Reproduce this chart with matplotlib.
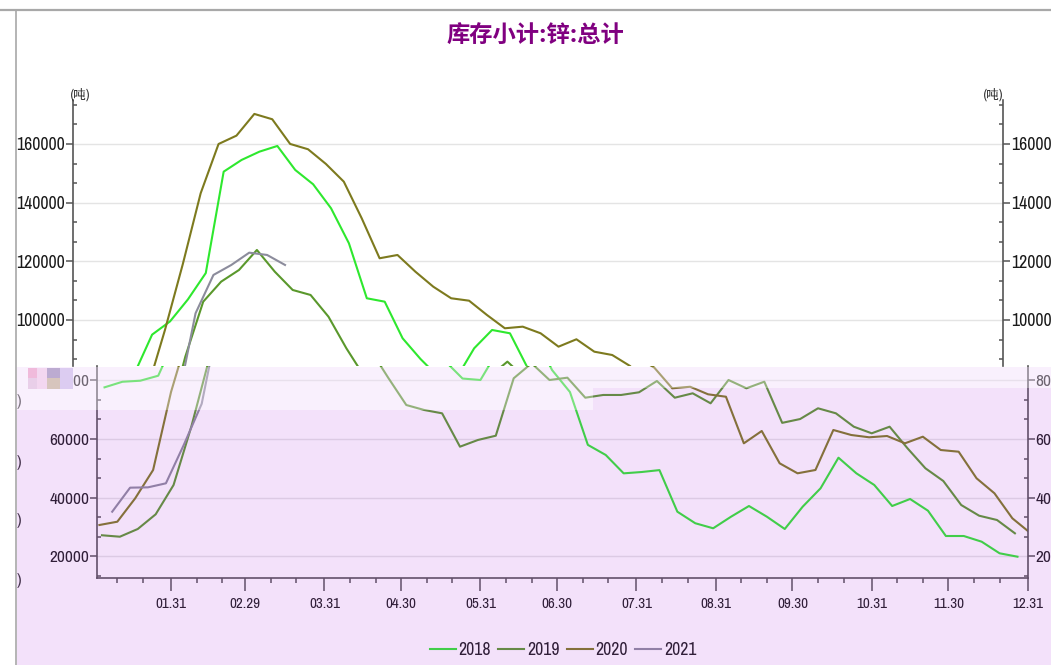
import matplotlib
matplotlib.use('Agg')
import matplotlib.pyplot as plt
import matplotlib.patches as mpatches
from matplotlib.lines import Line2D
from matplotlib.ticker import MultipleLocator, FuncFormatter
from matplotlib import font_manager as fm

# weekly zinc stock (tonnes), one list per year, first value on first_day
years = ['2018', '2019', '2020', '2021']
first_day = [5, 4, 3, 8]
stock_2018 = [77600, 79500, 79860, 81560, 95000, 99500, 107000, 116000, 150570, 154560,
              157390, 159330, 151150, 146270, 138090, 126150, 107400, 106240, 93760, 86700,
              80600, 80100, 90350, 96590, 95460, 83500, 76000, 58000, 54550, 48300,
              48750, 49400, 35230, 31300, 29580, 33530, 37170, 33530, 29340, 36930,
              43200, 53630, 48310, 44330, 37170, 39560, 35570, 26950, 26950, 25010,
              21060, 19900]
stock_2019 = [27200, 26710, 29340, 34340, 44330, 64400, 87500, 106240, 113060, 117050,
              123870, 116470, 110230, 108525, 101125, 90350, 80780, 71580, 69880, 68750,
              57380, 59660, 61120, 80680, 85800, 80100, 80890, 74070, 75000, 75000,
              75910, 79760, 74070, 75570, 72160, 80100, 77270, 79520, 65500, 66800,
              70460, 68750, 64190, 61940, 64190, 56830, 50020, 45690, 37510, 33870,
              32400, 27870]
stock_2020 = [30700, 31820, 39800, 49440, 76000, 96500, 119000, 143200, 160000, 162850,
              170250, 168440, 160020, 158210, 153200, 147160, 134680, 121040, 122160, 116470,
              111350, 107400, 106580, 101700, 97170, 97720, 95460, 90900, 93420, 89190,
              88060, 84300, 77260, 77800, 75230, 74400, 58530, 62730, 51720, 48310,
              49440, 63070, 61360, 60580, 61020, 58530, 60780, 56250, 55670, 46610,
              41500, 32980, 28000]
stock_2021 = [35230, 43420, 43530, 44900, 58000, 72000, 102280, 115350, 118760, 122950,
              122165, 118760]
series = [stock_2018, stock_2019, stock_2020, stock_2021]
colors = ['#2EE82E', '#5A982C', '#7D7A1E', '#8C8C9C']

month_len = [31, 29, 31, 30, 31, 30, 31, 31, 30, 31, 30, 31]
month_labels = ['01.31', '02.29', '03.31', '04.30', '05.31', '06.30',
                '07.31', '08.31', '09.30', '10.31', '11.30', '12.31']
title = '库存小计:锌:总计'

names = {f.name for f in fm.fontManager.ttflist}
NARROW = 'DejaVu Sans'
for cand in ['Liberation Sans Narrow', 'Archivo Narrow', 'Roboto Condensed', 'DejaVu Sans']:
    if cand in names:
        NARROW = cand
        break
CJK = ['Noto Sans CJK SC', 'DejaVu Sans']
plt.rcParams['font.family'] = [NARROW, 'Noto Sans CJK SC', 'DejaVu Sans']

W, H = 1051, 665
fig = plt.figure(figsize=(W / 100, H / 100), dpi=100)
fig.patch.set_facecolor('white')
rend = fig.canvas.get_renderer()


def fx(x):
    return x / W


def fy(y):
    return 1 - y / H


def fit(s, target_px, **kw):
    # font size (pt) that gives the text the wanted width in pixels
    t = fig.text(0, 0, s, fontsize=10, **kw)
    w = t.get_window_extent(rend).width
    t.remove()
    return 10 * target_px / w


fs_top = fit('160000', 48)
fs_bot = fit('60000', 39)
fs_x = fit('01.31', 31)
fs_leg = fit('2018', 32)
fs_title = fit(title, 178, family=CJK, fontweight='bold')

month_end = []
minor_days = []
acc = 0
for n in month_len:
    minor_days += [acc + 10, acc + 20]
    acc += n
    month_end.append(acc)

ax_top = fig.add_axes([fx(72.7), fy(366), (1003.3 - 72.7) / W, 266 / H])
ax_bot = fig.add_axes([fx(96.7), fy(578.3), 931 / W, (578.3 - 366) / H])
ax_top.set_ylim(84310, 175000)
ax_bot.set_ylim(12540, 84870)

spine_c = '#555555'
fmt = FuncFormatter(lambda v, p: f'{v:.0f}')
handles = []
for ax, fs in ((ax_top, fs_top), (ax_bot, fs_bot)):
    ax.set_facecolor('none')
    ax.set_xlim(1.94, 366)
    for vals, d0, c, lab in zip(series, first_day, colors, years):
        xs = [d0 + 7 * i for i in range(len(vals))]
        ln, = ax.plot(xs, vals, color=c, lw=1.5, label=lab)
        if ax is ax_bot:
            handles.append(ln)
    ax.yaxis.set_major_locator(MultipleLocator(20000))
    ax.yaxis.set_minor_locator(MultipleLocator(20000 / 3))
    ax.yaxis.set_major_formatter(fmt)
    ax.yaxis.grid(True, which='major', color='#E4E4E4', lw=1)
    ax.set_axisbelow(True)
    ax.spines['top'].set_visible(False)
    for s in ('left', 'right', 'bottom'):
        ax.spines[s].set_color(spine_c)
        ax.spines[s].set_linewidth(1.2)
    ax.tick_params(axis='y', which='major', direction='out', length=4.8, width=1.1,
                   color=spine_c, pad=0.6, labelsize=fs, labelcolor='#1A1A1A',
                   left=True, right=True, labelleft=True, labelright=True)
    ax.tick_params(axis='y', which='minor', direction='in', length=2.6, width=1.1,
                   color=spine_c, left=True, right=True)

ax_top.spines['bottom'].set_visible(False)
ax_top.tick_params(axis='x', which='both', bottom=False, labelbottom=False)

ax_bot.set_xticks(month_end, month_labels)
ax_bot.set_xticks(minor_days, minor=True)
ax_bot.tick_params(axis='x', which='major', direction='out', length=9.4, width=1.1,
                   color=spine_c, pad=4, labelsize=fs_x, labelcolor='#1A1A1A')
ax_bot.tick_params(axis='x', which='minor', direction='out', length=3.6, width=1.1,
                   color=spine_c)

em_leg = fs_leg * 100 / 72
fig.legend(handles, years, loc='center', bbox_to_anchor=(fx(563), fy(650)), ncol=4,
           frameon=False, fontsize=fs_leg, handlelength=26 / em_leg,
           handletextpad=3 / em_leg, columnspacing=7 / em_leg, labelcolor='#1A1A1A')

fig.text(fx(535), fy(36), title, fontsize=fs_title, fontweight='bold',
         color='#800080', family=CJK, ha='center', va='center')
for xu in (80, 993):
    fig.text(fx(xu), fy(95), '(吨)', fontsize=9, family=CJK, color='#222222',
             ha='center', va='center')

# leftover label fragments and garbled block of the captured screen
for yy in (401.7, 463, 520, 580):
    fig.text(fx(16.5), fy(yy), ')', fontsize=12, color='#333333', ha='left', va='center')
for x0, y0, w, h, c in [(28, 368, 9, 10, '#F2A6C8'), (28, 378, 9, 11, '#E6C8E0'),
                        (37, 368, 10, 21, '#F6D6EA'), (47, 368, 13, 10, '#9C8CB8'),
                        (47, 378, 13, 11, '#C8B898'), (60, 368, 13, 21, '#D0C4EC')]:
    fig.add_artist(mpatches.Rectangle((fx(x0), fy(y0 + h)), w / W, h / H,
                                      transform=fig.transFigure, color=c, lw=0, zorder=6))

# lavender highlight over the lower part, with a paler band at its top
lav = (175 / 255, 55 / 255, 228 / 255)
band = [(16.7, 366.7, 593, 410), (593, 366.7, 1051, 388)]
for x0, y0, x1, y1 in band:
    for c, a in (('white', 0.35), (lav, 0.07)):
        fig.add_artist(mpatches.Rectangle((fx(x0), fy(y1)), (x1 - x0) / W, (y1 - y0) / H,
                                          transform=fig.transFigure, color=c, alpha=a,
                                          lw=0, zorder=20))
for x0, y0, x1, y1 in [(16.7, 410, 593, 665), (593, 388, 1051, 665)]:
    fig.add_artist(mpatches.Rectangle((fx(x0), fy(y1)), (x1 - x0) / W, (y1 - y0) / H,
                                      transform=fig.transFigure, color=lav, alpha=0.15,
                                      lw=0, zorder=20))

# window frame lines
fig.add_artist(Line2D([0, 1], [fy(10), fy(10)], transform=fig.transFigure,
                      color='#A8A8A8', lw=1.6, zorder=25))
fig.add_artist(Line2D([fx(15.5), fx(15.5)], [fy(10), 0], transform=fig.transFigure,
                      color='#A8A8A8', lw=1.2, zorder=25))

fig.savefig('out.png', dpi=100)
